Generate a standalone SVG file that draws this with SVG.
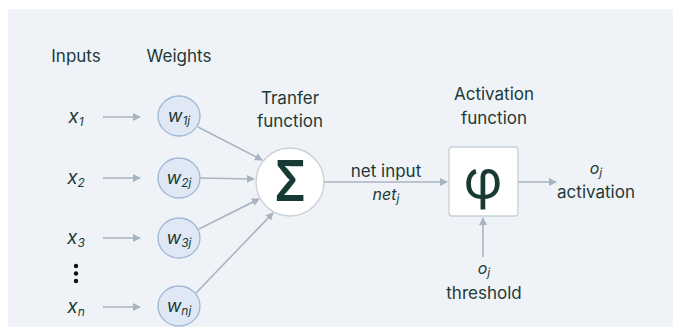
<svg xmlns="http://www.w3.org/2000/svg" width="673" height="327" viewBox="0 0 673 327">
<defs>
<marker id="ah" markerWidth="8" markerHeight="8" refX="7" refY="4" orient="auto" markerUnits="userSpaceOnUse">
<path d="M0,0 L8,4 L0,8 Z" fill="#a9b4c2"/>
</marker>
<style>
.t{font-family:Inter,"Noto Sans","Liberation Sans",sans-serif;fill:#1d3a35;font-size:17px;text-anchor:middle}
.i{font-style:italic}
.x{font-size:19px}
.wl{font-size:18px}
.w{fill:#dfe8f4;stroke:#9db6d6;stroke-width:1.3}
.c{stroke:#a9b4c2;stroke-width:1.6;fill:none}
.sub{font-size:12px}
</style>
</defs>
<rect x="0" y="0" width="673" height="327" fill="#ffffff"/>
<rect x="8" y="9" width="665" height="318" fill="#eff3f8"/>

<g id="headers">
<text class="t" x="76" y="62">Inputs</text>
<text class="t" x="179" y="62">Weights</text>
</g>

<g id="inputs">
<text class="t i x" x="76" y="123">x<tspan class="sub" dy="3">1</tspan></text>
<text class="t i x" x="76" y="184">x<tspan class="sub" dy="3">2</tspan></text>
<text class="t i x" x="76" y="244">x<tspan class="sub" dy="3">3</tspan></text>
<g id="dots" fill="#111">
<circle cx="76" cy="266" r="2.2"/>
<circle cx="76" cy="273.5" r="2.2"/>
<circle cx="76" cy="281" r="2.2"/>
</g>
<text class="t i x" x="76" y="313">x<tspan class="sub" dy="3">n</tspan></text>
</g>

<g id="w1"><ellipse class="w" cx="179" cy="116" rx="21" ry="20"/><text class="t i wl" x="179" y="122">w<tspan class="sub" dy="3">1j</tspan></text></g>
<g id="w2"><ellipse class="w" cx="179" cy="178" rx="21" ry="20"/><text class="t i wl" x="179" y="184">w<tspan class="sub" dy="3">2j</tspan></text></g>
<g id="w3"><ellipse class="w" cx="179" cy="238" rx="21" ry="20"/><text class="t i wl" x="179" y="244">w<tspan class="sub" dy="3">3j</tspan></text></g>
<g id="wn"><ellipse class="w" cx="179" cy="306" rx="21" ry="20"/><text class="t i wl" x="179" y="312">w<tspan class="sub" dy="3">nj</tspan></text></g>

<g id="transfer">
<text class="t" x="290" y="104">Tranfer</text>
<text class="t" x="290" y="127">function</text>
<circle cx="290" cy="182" r="34" fill="#ffffff" stroke="#c9cfd6" stroke-width="1.3"/>
<text class="t" transform="translate(290,201) scale(0.82,1)" style="font-size:56px;font-weight:600;fill:#173b34">Σ</text>
</g>

<g id="activation">
<text class="t" x="494" y="100">Activation</text>
<text class="t" x="494" y="124">function</text>
<rect x="449" y="147" width="69" height="69" rx="3" fill="#ffffff" stroke="#c9cfd6" stroke-width="1.3"/>
<text class="t" x="483" y="199" style="font-size:54px;fill:#173b34">φ</text>
</g>

<g id="netinput">
<text class="t" x="386" y="177">net input</text>
<text class="t i" x="386" y="200" style="font-size:16px">net<tspan class="sub" dy="3">j</tspan></text>
</g>

<g id="output">
<text class="t i" x="596" y="174" style="font-size:16px">o<tspan class="sub" dy="3">j</tspan></text>
<text class="t" x="596" y="198">activation</text>
</g>

<g id="threshold">
<text class="t i" x="484" y="274" style="font-size:16px">o<tspan class="sub" dy="3">j</tspan></text>
<text class="t" x="484" y="299">threshold</text>
</g>

<g id="connectors">
<line class="c" x1="103" y1="117" x2="140" y2="117" marker-end="url(#ah)"/>
<line class="c" x1="103" y1="178" x2="140" y2="178" marker-end="url(#ah)"/>
<line class="c" x1="103" y1="238" x2="140" y2="238" marker-end="url(#ah)"/>
<line class="c" x1="103" y1="307" x2="140" y2="307" marker-end="url(#ah)"/>
<line class="c" x1="198" y1="127" x2="262" y2="160" marker-end="url(#ah)"/>
<line class="c" x1="200" y1="178" x2="254" y2="179" marker-end="url(#ah)"/>
<line class="c" x1="199" y1="229" x2="259" y2="199" marker-end="url(#ah)"/>
<line class="c" x1="196" y1="293" x2="273" y2="213" marker-end="url(#ah)"/>
<line class="c" x1="324" y1="182" x2="447" y2="182" marker-end="url(#ah)"/>
<line class="c" x1="518" y1="182" x2="556" y2="182" marker-end="url(#ah)"/>
<line class="c" x1="483" y1="257" x2="483" y2="218" marker-end="url(#ah)"/>
</g>
</svg>
